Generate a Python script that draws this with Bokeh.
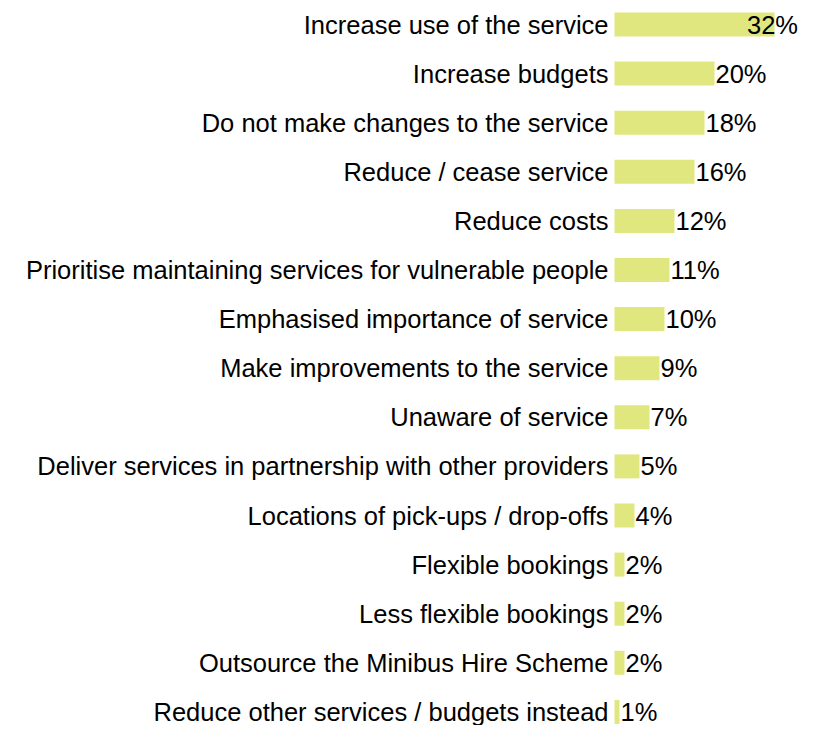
from bokeh.plotting import figure
from bokeh.models import Range1d, ColumnDataSource
from bokeh.core.properties import value
from bokeh.embed import file_html
from bokeh.resources import INLINE

categories = [
    "Increase use of the service",
    "Increase budgets",
    "Do not make changes to the service",
    "Reduce / cease service",
    "Reduce costs",
    "Prioritise maintaining services for vulnerable people",
    "Emphasised importance of service",
    "Make improvements to the service",
    "Unaware of service",
    "Deliver services in partnership with other providers",
    "Locations of pick-ups / drop-offs",
    "Flexible bookings",
    "Less flexible bookings",
    "Outsource the Minibus Hire Scheme",
    "Reduce other services / budgets instead",
]
values = [32, 20, 18, 16, 12, 11, 10, 9, 7, 5, 4, 2, 2, 2, 1]
value_labels = [f"{v}%" for v in values]

W, H = 802, 725
PX_PER_UNIT = 5.0
ZERO_PX = 614
ROW = 49.1
FIRST = 24
MAX_LABEL_X = 26.3

n = len(categories)
idx = list(range(n))
label_x = [min(v, MAX_LABEL_X) for v in values]

src = ColumnDataSource(dict(y=idx, v=values, cat=categories, lab=value_labels, lx=label_x))

x0 = -ZERO_PX / PX_PER_UNIT
x1 = x0 + W / PX_PER_UNIT
ytop = -FIRST / ROW
ybot = ytop + H / ROW

p = figure(width=W, height=H, output_backend="svg", toolbar_location=None,
           x_range=Range1d(x0, x1), y_range=Range1d(ybot, ytop),
           min_border=0, outline_line_color=None)
p.xaxis.visible = False
p.yaxis.visible = False
p.xgrid.visible = False
p.ygrid.visible = False
p.background_fill_color = "white"

p.hbar(y="y", left=0, right="v", height=24 / ROW, source=src,
       fill_color="#e1e77f", line_color=None)

font = value("Liberation Sans")
p.text(x=0, y="y", text="cat", source=src, x_offset=-6,
       text_align="right", text_baseline="middle",
       text_font=font, text_font_size="25.5px", text_color="black")
p.text(x="lx", y="y", text="lab", source=src, x_offset=1,
       text_align="left", text_baseline="middle",
       text_font=font, text_font_size="25.5px", text_color="black")

open("out.html", "w").write(file_html(p, INLINE))
